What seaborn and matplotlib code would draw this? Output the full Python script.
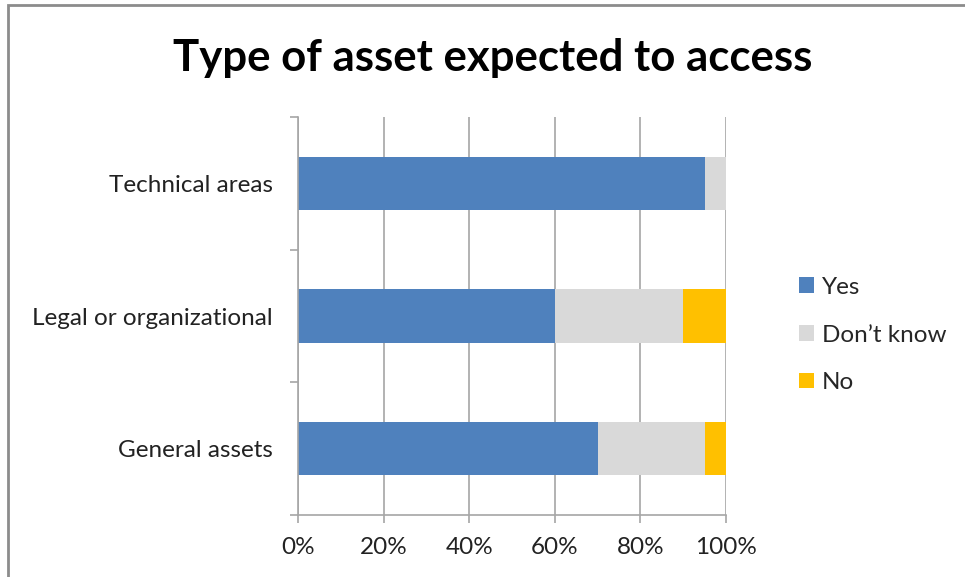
import matplotlib
matplotlib.use("Agg")
import matplotlib.pyplot as plt
from matplotlib.patches import Rectangle, Patch
import numpy as np
import pandas as pd
import seaborn as sns

categories = ["Technical areas", "Legal or organizational", "General assets"]
yes = [95, 60, 70]
dont_know = [5, 30, 25]
no = [0, 10, 5]
series_names = ["Yes", "Don\u2019t know", "No"]
colors = ["#4F81BD", "#D9D9D9", "#FFC000"]
xticks = [0, 20, 40, 60, 80, 100]

sns.set_theme(style="white")
plt.rcParams["font.family"] = ["Lato", "DejaVu Sans"]

df = pd.DataFrame({"category": categories, "Yes": yes,
                   "DK": dont_know, "No": no})
df["cum_yes"] = df["Yes"]
df["cum_dk"] = df["Yes"] + df["DK"]
df["cum_no"] = df["Yes"] + df["DK"] + df["No"]

fig = plt.figure(figsize=(9.65, 5.77), dpi=100)
ax = fig.add_axes([298 / 965, 1 - 515 / 577, 428 / 965, 398 / 577])

# stacked bars: draw cumulative totals back to front
for col, c in zip(["cum_no", "cum_dk", "cum_yes"], colors[::-1]):
    sns.barplot(data=df, x=col, y="category", order=categories, color=c,
                width=0.4, orient="h", ax=ax, saturation=1, linewidth=0)

ax.set_xlim(0, 100)
ax.set_ylim(2.5, -0.5)
ax.set_xlabel("")
ax.set_ylabel("")
ax.set_xticks(xticks)
ax.set_xticklabels([f"{t}%" for t in xticks], fontsize=17.5, color="#222222")
ax.set_yticks(range(len(categories)))
ax.set_yticklabels(categories, fontsize=17.5, color="#222222")
ax.tick_params(axis="y", which="major", left=False, length=0, pad=18)
ax.set_yticks([-0.5, 0.5, 1.5, 2.5], minor=True)
ax.tick_params(axis="y", which="minor", left=True, length=6,
               color="#A6A6A6", width=1.2, direction="out")
ax.tick_params(axis="x", bottom=True, length=6, color="#A6A6A6",
               width=1.2, direction="out", pad=10)

ax.set_axisbelow(True)
ax.grid(axis="x", color="#A6A6A6", linewidth=1.2)
ax.grid(axis="y", visible=False)
for s in ["top", "right"]:
    ax.spines[s].set_visible(False)
for s in ["left", "bottom"]:
    ax.spines[s].set_color("#A6A6A6")
    ax.spines[s].set_linewidth(1.2)

fig.text(493 / 965, 1 - 58 / 577, "Type of asset expected to access",
         ha="center", va="center", fontsize=31.5, fontweight="bold", color="black")

handles = [Patch(facecolor=c, edgecolor="none") for c in colors]
fig.legend(handles, series_names, loc="center left",
           bbox_to_anchor=(799 / 965, 1 - 335 / 577), frameon=False,
           fontsize=17.5, handlelength=0.6, handleheight=0.6,
           handletextpad=0.35, labelspacing=1.1, borderpad=0, borderaxespad=0)

fig.patches.append(Rectangle((8 / 965, -0.05), 1.1, 1 - 5 / 577 + 0.05,
                             transform=fig.transFigure, fill=False,
                             edgecolor="#8C8C8C", linewidth=2))

fig.savefig("out.png", dpi=100, facecolor="white")
